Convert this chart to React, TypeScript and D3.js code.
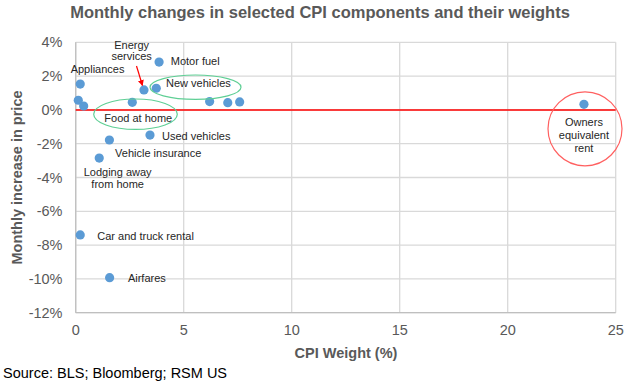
import React from "react";
import * as d3 from "d3";

const labels = [
  "Appliances", "", "", "", "Energy services", "New vehicles", "Motor fuel",
  "", "", "", "Used vehicles", "Vehicle insurance", "Lodging away from home",
  "Car and truck rental", "Airfares", "Owners equivalent rent",
];
const weights = [0.21, 0.12, 0.37, 2.62, 3.16, 3.73, 3.86, 6.2, 7.04, 7.59, 3.44, 1.56, 1.09, 0.21, 1.57, 23.53];
const changes = [1.53, 0.57, 0.23, 0.45, 1.18, 1.28, 2.83, 0.49, 0.43, 0.47, -1.49, -1.78, -2.85, -7.4, -9.93, 0.33];
const xTicks = [0, 5, 10, 15, 20, 25];
const yTicks = [4, 2, 0, -2, -4, -6, -8, -10, -12];

const W = 630, H = 381;
const M = { left: 75.7, right: 14.3, top: 42.3, bottom: 68.3 };

export default function App() {
  const x = d3.scaleLinear().domain([0, 25]).range([M.left, W - M.right]);
  const y = d3.scaleLinear().domain([-12, 4]).range([H - M.bottom, M.top]);
  const font = "Liberation Sans, Arial, sans-serif";
  const grey = "#595959";
  const txt = { fontFamily: font, fontSize: 11, fill: "#262626" } as const;

  const pt = (i: number) => [x(weights[i]), y(changes[i])];

  return (
    <svg width={W} height={H} style={{ position: "absolute", left: 0, top: 0, background: "#fff" }}>
      <defs>
        <marker id="ah" viewBox="0 0 10 10" refX="9" refY="5" markerWidth="5" markerHeight="5" orient="auto">
          <path d="M0,0 L10,5 L0,10 z" fill="#ff0000" />
        </marker>
      </defs>
      <rect width={W} height={H} fill="#fff" />
      <text x={320} y={17.5} textAnchor="middle" fontFamily={font} fontWeight="bold" fontSize={16.5} fill={grey}>
        Monthly changes in selected CPI components and their weights
      </text>
      {yTicks.map((t) => (
        <g key={t}>
          <line x1={M.left} x2={W - M.right} y1={y(t)} y2={y(t)} stroke="#d9d9d9" strokeWidth={1.3} />
          <text x={62.5} y={y(t) + 5} textAnchor="end" fontFamily={font} fontSize={14.5} fill={grey}>
            {t}%
          </text>
        </g>
      ))}
      {xTicks.map((t) => (
        <g key={t}>
          <line x1={x(t)} x2={x(t)} y1={M.top} y2={H - M.bottom} stroke="#d9d9d9" strokeWidth={1.3} />
          <text x={x(t)} y={H - M.bottom + 22} textAnchor="middle" fontFamily={font} fontSize={14.5} fill={grey}>
            {t}
          </text>
        </g>
      ))}
      <line x1={M.left} x2={M.left} y1={M.top} y2={H - M.bottom} stroke="#bfbfbf" strokeWidth={1.3} />
      <line x1={M.left} x2={W - M.right} y1={H - M.bottom} y2={H - M.bottom} stroke="#bfbfbf" strokeWidth={1.3} />
      <line x1={x(0)} x2={x(25)} y1={y(0)} y2={y(0)} stroke="#ff0000" strokeWidth={1.5} />
      <text x={346} y={357.5} textAnchor="middle" fontFamily={font} fontWeight="bold" fontSize={14.5} fill={grey}>
        CPI Weight (%)
      </text>
      <text transform={`translate(22,${(M.top + H - M.bottom) / 2}) rotate(-90)`} textAnchor="middle" fontFamily={font} fontWeight="bold" fontSize={14.5} fill={grey}>
        Monthly increase in price
      </text>
      <text x={3} y={378} fontFamily={font} fontSize={14.5} fill="#000">
        Source: BLS; Bloomberg; RSM US
      </text>

      {weights.map((w, i) => (
        <circle key={i} cx={x(w)} cy={y(changes[i])} r={4.6} fill="#5b9bd5" />
      ))}

      <ellipse cx={195.5} cy={87.2} rx={45.5} ry={12.2} fill="none" stroke="#5fcf95" strokeWidth={1.2} />
      <ellipse cx={135.5} cy={114.2} rx={41.8} ry={15.2} fill="none" stroke="#5fcf95" strokeWidth={1.2} />
      <circle cx={585} cy={128.8} r={37} fill="none" stroke="#ff6060" strokeWidth={1.2} />
      <line x1={136.5} y1={66} x2={pt(4)[0] - 1.5} y2={pt(4)[1] - 4.5} stroke="#ff0000" strokeWidth={1.2} markerEnd="url(#ah)" />

      <text {...txt} x={pt(0)[0] - 9.6} y={pt(0)[1] - 10.8}>{labels[0]}</text>
      <text {...txt} x={pt(4)[0] - 12.3} y={pt(4)[1] - 41} textAnchor="middle">Energy</text>
      <text {...txt} x={pt(4)[0] - 12.3} y={pt(4)[1] - 29.5} textAnchor="middle">services</text>
      <text {...txt} x={pt(5)[0] + 9.7} y={pt(5)[1] - 1}>{labels[5]}</text>
      <text {...txt} x={pt(6)[0] + 11.7} y={pt(6)[1] + 3}>{labels[6]}</text>
      <text {...txt} x={104.3} y={121.7}>Food at home</text>
      <text {...txt} x={pt(10)[0] + 12} y={pt(10)[1] + 4.7}>{labels[10]}</text>
      <text {...txt} x={pt(11)[0] + 5.7} y={pt(11)[1] + 17}>{labels[11]}</text>
      <text {...txt} x={pt(12)[0] + 18.4} y={pt(12)[1] + 18} textAnchor="middle">Lodging away</text>
      <text {...txt} x={pt(12)[0] + 18.4} y={pt(12)[1] + 29.7} textAnchor="middle">from home</text>
      <text {...txt} x={pt(13)[0] + 17} y={pt(13)[1] + 4.7}>{labels[13]}</text>
      <text {...txt} x={pt(14)[0] + 18.3} y={pt(14)[1] + 4}>{labels[14]}</text>
      <text {...txt} x={pt(15)[0]} y={pt(15)[1] + 22} textAnchor="middle">Owners</text>
      <text {...txt} x={pt(15)[0]} y={pt(15)[1] + 34.7} textAnchor="middle">equivalent</text>
      <text {...txt} x={pt(15)[0]} y={pt(15)[1] + 47.4} textAnchor="middle">rent</text>
    </svg>
  );
}
